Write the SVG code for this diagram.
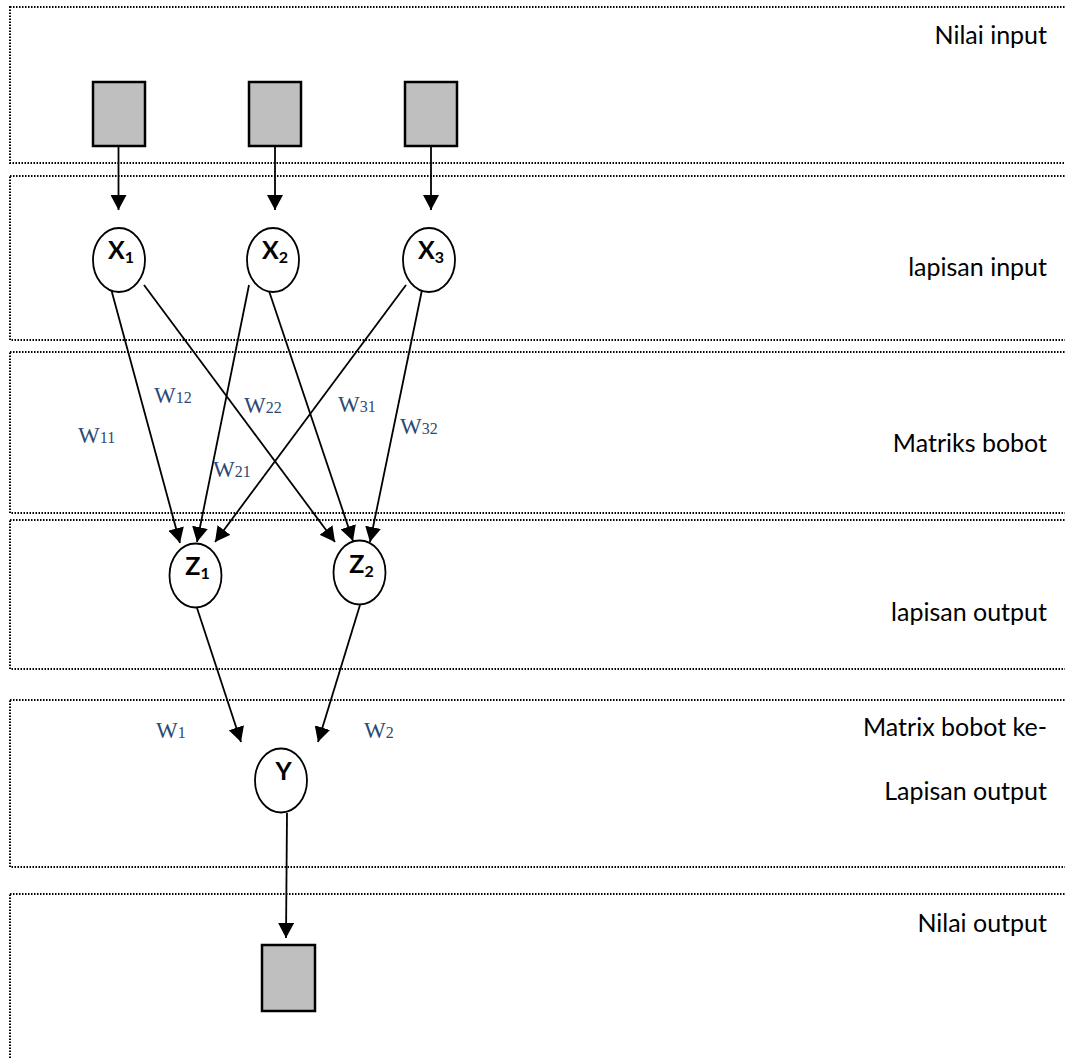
<svg xmlns="http://www.w3.org/2000/svg" width="1065" height="1059" viewBox="0 0 1065 1059">
<style>
.band{fill:none;stroke:#000;stroke-width:2;stroke-dasharray:1.5 1.5}
.box{fill:#bfbfbf;stroke:#000;stroke-width:2.5}
.nd{fill:#fff;stroke:#000;stroke-width:1.8}
.nl{font-family:Lato,"Open Sans",sans-serif;font-weight:bold;font-size:25px;fill:#000;text-anchor:middle}
.lab{font-family:Lato,"Open Sans",sans-serif;font-size:25px;fill:#000;text-anchor:end}
.w{font-family:"Liberation Serif","DejaVu Serif",serif;font-size:23px;fill:#2b4a73}
.ws{font-size:16px}
.cn{fill:none;stroke:#000;stroke-width:1.8;marker-end:url(#ah)}
</style>
<defs>
<marker id="ah" markerUnits="userSpaceOnUse" markerWidth="16" markerHeight="16" refX="15" refY="8" orient="auto" viewBox="0 0 16 16">
<path d="M0,0 L15,8 L0,16 z" fill="#000"/>
</marker>
</defs>
<rect width="1065" height="1059" fill="#fff"/>
<g id="bands">
<rect class="band" x="10" y="7" width="1100" height="156"/>
<rect class="band" x="10" y="176" width="1100" height="164"/>
<rect class="band" x="10" y="352" width="1100" height="161"/>
<rect class="band" x="10" y="520" width="1100" height="149"/>
<rect class="band" x="10" y="700" width="1100" height="167"/>
<rect class="band" x="10" y="894" width="1100" height="200"/>
</g>
<g id="band-labels">
<text class="lab" x="1047" y="44">Nilai input</text>
<text class="lab" x="1047" y="276">lapisan input</text>
<text class="lab" x="1047" y="452">Matriks bobot</text>
<text class="lab" x="1047" y="621">lapisan output</text>
<text class="lab" x="1047" y="736">Matrix bobot ke-</text>
<text class="lab" x="1047" y="800">Lapisan output</text>
<text class="lab" x="1047" y="932">Nilai output</text>
</g>
<g id="connectors">
<line class="cn" x1="118.5" y1="146" x2="118.5" y2="210"/>
<line class="cn" x1="275" y1="146" x2="275" y2="210"/>
<line class="cn" x1="431" y1="146" x2="431" y2="210"/>
<line class="cn" x1="110" y1="285" x2="180" y2="543"/>
<line class="cn" x1="144" y1="285" x2="335" y2="542"/>
<line class="cn" x1="249" y1="285" x2="197" y2="542"/>
<line class="cn" x1="267" y1="285" x2="353" y2="541"/>
<line class="cn" x1="406" y1="285" x2="215" y2="542"/>
<line class="cn" x1="423" y1="285" x2="370" y2="542"/>
<line class="cn" x1="197" y1="608" x2="241" y2="742"/>
<line class="cn" x1="360" y1="605" x2="318" y2="742"/>
<line class="cn" x1="287" y1="813" x2="286" y2="938"/>
</g>
<g id="weights">
<text class="w" x="78" y="443">W<tspan class="ws">11</tspan></text>
<text class="w" x="154" y="403">W<tspan class="ws">12</tspan></text>
<text class="w" x="244" y="413">W<tspan class="ws">22</tspan></text>
<text class="w" x="338" y="412">W<tspan class="ws">31</tspan></text>
<text class="w" x="400" y="434">W<tspan class="ws">32</tspan></text>
<text class="w" x="213" y="477">W<tspan class="ws">21</tspan></text>
<text class="w" x="156" y="738">W<tspan class="ws">1</tspan></text>
<text class="w" x="364" y="738">W<tspan class="ws">2</tspan></text>
</g>
<g id="in1"><rect class="box" x="93" y="82" width="52" height="64"/></g>
<g id="in2"><rect class="box" x="249" y="82" width="52" height="64"/></g>
<g id="in3"><rect class="box" x="405" y="82" width="52" height="64"/></g>
<g id="x1"><ellipse class="nd" cx="119" cy="260" rx="26" ry="32"/><text class="nl" x="121" y="259">X<tspan font-size="16" dy="4">1</tspan></text></g>
<g id="x2"><ellipse class="nd" cx="273" cy="260" rx="26" ry="32"/><text class="nl" x="275" y="259">X<tspan font-size="16" dy="4">2</tspan></text></g>
<g id="x3"><ellipse class="nd" cx="429" cy="260" rx="26" ry="32"/><text class="nl" x="431" y="259">X<tspan font-size="16" dy="4">3</tspan></text></g>
<g id="z1"><ellipse class="nd" cx="195.5" cy="575.5" rx="26" ry="32"/><text class="nl" x="197.5" y="575">Z<tspan font-size="16" dy="4">1</tspan></text></g>
<g id="z2"><ellipse class="nd" cx="359.5" cy="572.5" rx="26" ry="32"/><text class="nl" x="361.5" y="573">Z<tspan font-size="16" dy="4">2</tspan></text></g>
<g id="y"><ellipse class="nd" cx="281" cy="780.5" rx="26" ry="32"/><text class="nl" x="283.5" y="780">Y</text></g>
<g id="out"><rect class="box" x="262" y="945" width="53" height="66"/></g>
</svg>
